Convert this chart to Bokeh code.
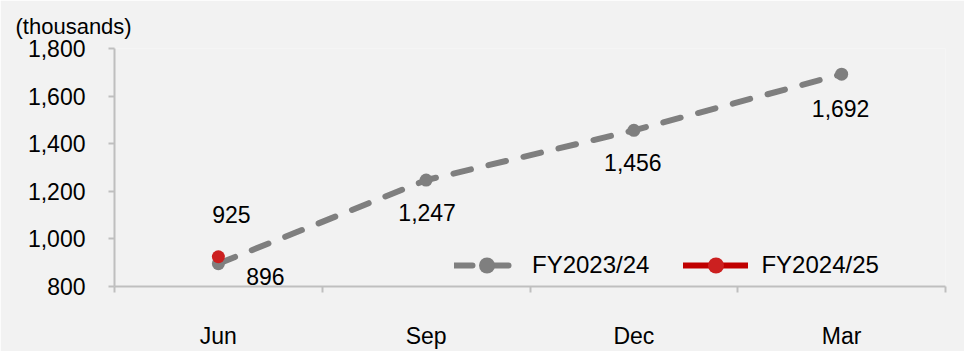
from bokeh.plotting import figure
from bokeh.models import (ColumnDataSource, FixedTicker, LabelSet, Legend,
                          LegendItem, Range1d, NumeralTickFormatter)
from bokeh.core.properties import value
from bokeh.embed import file_html
from bokeh.resources import INLINE

# quarter-end months and values (thousands)
quarters = ["Jun", "Sep", "Dec", "Mar"]
fy2324 = [896, 1247, 1456, 1692]
fy2425 = [925]
y_ticks = [800, 1000, 1200, 1400, 1600, 1800]

# label placement in screen pixels (right / down)
fy2324_label_dx = [47, 1, -1, -1]
fy2324_label_dy = [13, 32, 32, 34]
fy2425_label_dx = [13]
fy2425_label_dy = [-42]

FONT = "Liberation Sans"
BG = "#f2f2f2"
AXIS = "#bfbfbf"
GRAY = "#7f7f7f"
RED_LINE = "#c00000"
RED_DOT = "#cc2020"

centers = [i + 0.5 for i in range(len(quarters))]

p = figure(width=964, height=351, output_backend="svg", toolbar_location=None,
           x_range=Range1d(0, len(quarters)), y_range=Range1d(800, 1800),
           min_border_left=114, min_border_right=19, min_border_top=48,
           min_border_bottom=60)
p.background_fill_color = BG
p.border_fill_color = BG
p.outline_line_color = None
p.xgrid.visible = False
p.ygrid.visible = False

# unit note above the value axis
p.title.text = "(thousands)"
p.title.align = "left"
p.title.offset = -99
p.title.standoff = 20
p.title.text_font = FONT
p.title.text_font_size = "22px"
p.title.text_font_style = "normal"
p.title.text_color = "#000000"

# x axis: labels at category centres, ticks at category boundaries
p.xaxis.ticker = FixedTicker(ticks=centers,
                             minor_ticks=list(range(len(quarters) + 1)))
p.xaxis.major_label_overrides = {c: q for c, q in zip(centers, quarters)}
p.xaxis.major_tick_out = 0
p.xaxis.major_tick_in = 0
p.xaxis.minor_tick_out = 6
p.xaxis.minor_tick_in = 0
p.xaxis.minor_tick_line_color = AXIS
p.xaxis.axis_line_color = AXIS
p.xaxis.axis_line_width = 2
p.xaxis.minor_tick_line_width = 2
p.xaxis.major_label_standoff = 30
p.xaxis.major_label_text_font = FONT
p.xaxis.major_label_text_font_size = "23px"
p.xaxis.major_label_text_color = "#000000"

p.yaxis.ticker = FixedTicker(ticks=y_ticks, minor_ticks=[])
p.yaxis.formatter = NumeralTickFormatter(format="0,0")
p.yaxis.major_tick_out = 6
p.yaxis.major_tick_in = 0
p.yaxis.major_tick_line_color = AXIS
p.yaxis.major_tick_line_width = 2
p.yaxis.axis_line_color = AXIS
p.yaxis.axis_line_width = 2
p.yaxis.minor_tick_line_color = None
p.yaxis.major_label_standoff = 23
p.yaxis.major_label_text_font = FONT
p.yaxis.major_label_text_font_size = "23px"
p.yaxis.major_label_text_color = "#000000"

src_a = ColumnDataSource(dict(x=centers, y=fy2324,
                              lbl=[f"{v:,}" for v in fy2324],
                              dx=fy2324_label_dx, dy=[-d for d in fy2324_label_dy]))
src_b = ColumnDataSource(dict(x=centers[:len(fy2425)], y=fy2425,
                              lbl=[f"{v:,}" for v in fy2425],
                              dx=fy2425_label_dx, dy=[-d for d in fy2425_label_dy]))

line_a = p.line("x", "y", source=src_a, line_color=GRAY, line_width=6,
                line_dash="18 18", line_cap="round")
dot_a = p.scatter("x", "y", source=src_a, size=13, fill_color=GRAY,
                  line_color=None)
line_b = p.line("x", "y", source=src_b, line_color=RED_LINE, line_width=6,
                line_cap="round")
dot_b = p.scatter("x", "y", source=src_b, size=13, fill_color=RED_DOT,
                  line_color=None)

for src in (src_a, src_b):
    p.add_layout(LabelSet(x="x", y="y", text="lbl", source=src,
                          x_offset="dx", y_offset="dy",
                          text_align="center", text_baseline="middle",
                          text_font=value(FONT), text_font_size="23px",
                          text_color="#000000"))

legend = Legend(items=[LegendItem(label="FY2023/24", renderers=[line_a, dot_a]),
                       LegendItem(label="FY2024/25", renderers=[line_b, dot_b])],
                orientation="horizontal", location=(340, 1),
                glyph_width=65, glyph_height=40, spacing=34, padding=0,
                label_standoff=13, label_text_font=FONT,
                label_text_font_size="24px", label_text_color="#000000",
                background_fill_alpha=0, border_line_color=None)
p.add_layout(legend)

open("out.html", "w").write(file_html(p, INLINE))
